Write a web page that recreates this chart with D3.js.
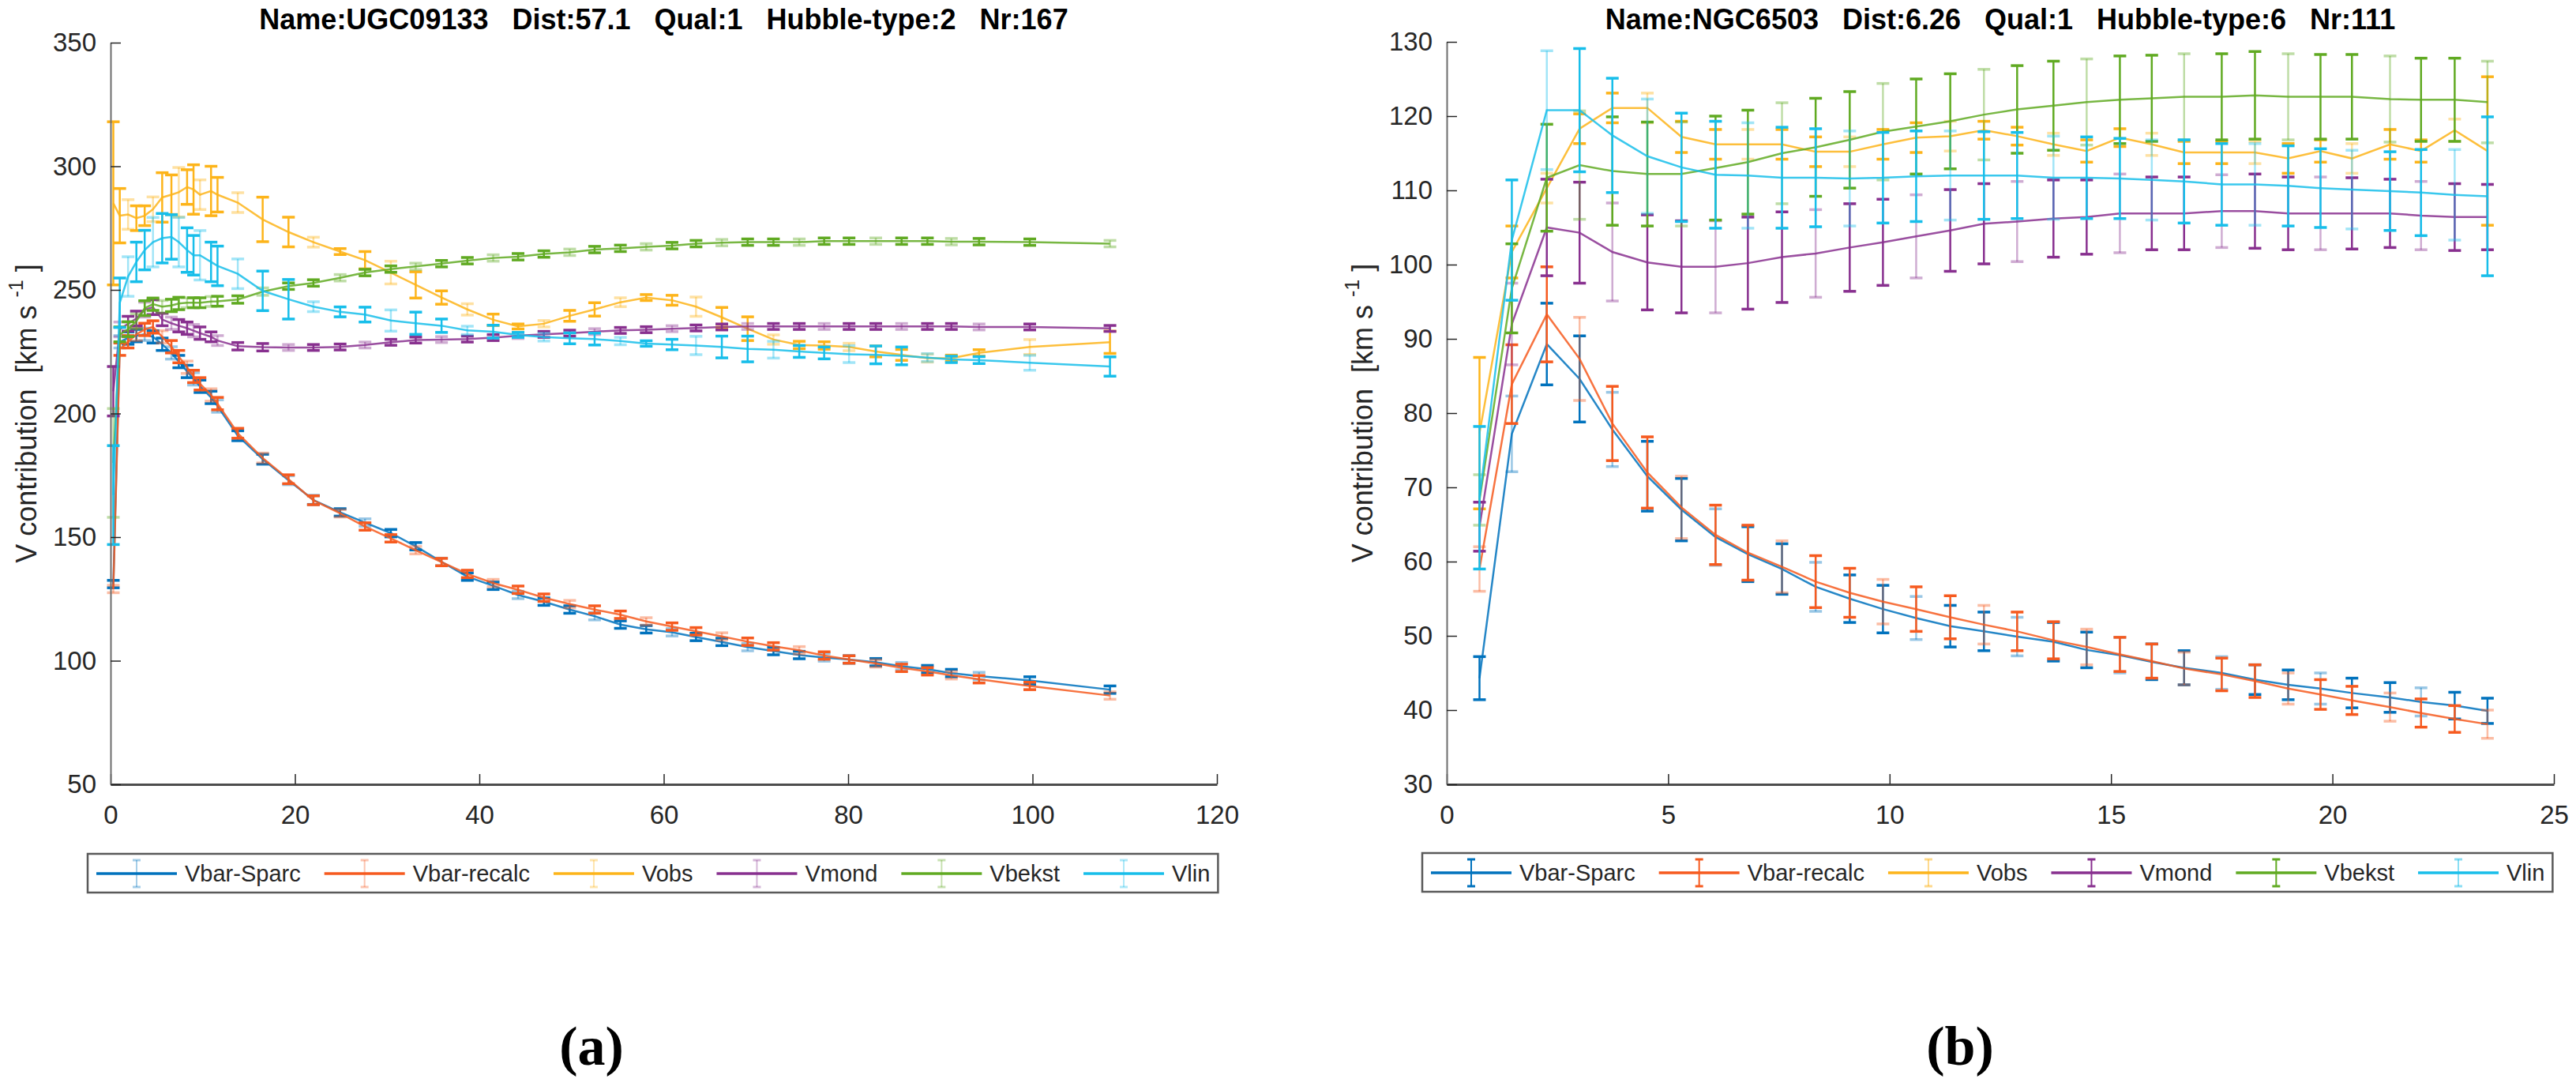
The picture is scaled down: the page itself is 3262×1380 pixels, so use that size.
<!DOCTYPE html>
<html>
<head>
<meta charset="utf-8">
<script src="https://cdn.jsdelivr.net/npm/d3@7"></script>
<style>
body { margin: 0; background: #fff; }
svg { display: block; font-family: "Liberation Sans", Arial, Helvetica, sans-serif; }
</style>
</head>
<body>
<svg id="fig" width="3262" height="1380"></svg>
<script>
// ---- panel (a) UGC09133 ----
var radiusA = [0.3, 1.0, 1.9, 2.8, 3.7, 4.6, 5.6, 6.6, 7.4, 8.3,
  9.0, 9.7, 10.9, 11.6, 13.8, 16.5, 19.3, 22.0, 24.9, 27.6,
  30.4, 33.1, 35.9, 38.7, 41.5, 44.2, 47.0, 49.8, 52.5, 55.3,
  58.1, 60.9, 63.5, 66.3, 69.1, 71.9, 74.7, 77.4, 80.1, 83.0,
  85.8, 88.6, 91.2, 94.2, 99.7, 108.4];

var vbarSparcA = [131, 229, 230.5, 231.5, 232, 231, 228, 224.5, 221, 217,
  214, 211, 206.5, 203, 191, 181.5, 173, 165, 160, 155.9,
  151.6, 146.3, 140, 134, 130.3, 126.6, 123.9, 120.7, 118, 114.6,
  112.7, 111.5, 109.6, 107.6, 105.5, 103.9, 102.3, 101.3, 100.5, 99.4,
  97.8, 96.6, 95, 93.8, 92, 88.3];
var errVbarSparcA = [1.5, 2.5, 2.5, 2.5, 2.5, 2.5, 2.5, 2.5, 2.5, 2.5,
  2.5, 2.5, 2.5, 2.5, 2, 2, 1.8, 1.8, 1.5, 1.5,
  1.5, 1.5, 1.5, 1.5, 1.5, 1.5, 1.5, 1.5, 1.5, 1.5,
  1.5, 1.5, 1.5, 1.5, 1.5, 1.5, 1.5, 1.5, 1.5, 1.5,
  1.5, 1.5, 1.5, 1.5, 1.5, 1.5];

var vbarRecalcA = [129, 226, 229, 232, 234, 235, 231, 227, 223, 218.7,
  215, 212, 207.5, 204, 192, 182, 173.4, 164.9, 159.6, 154.3,
  149.5, 144.7, 139.9, 135.1, 131.4, 128.7, 125.5, 122.9, 120.7, 118.6,
  115.9, 113.8, 111.9, 109.8, 107.7, 105.8, 104.2, 102.1, 100.5, 98.9,
  97.1, 95.7, 94.1, 92.5, 89.8, 85.9];
var errVbarRecalcA = [1.5, 2.5, 2.5, 2.5, 2.5, 2.5, 2.5, 2.5, 2.5, 2.5,
  2.5, 2.5, 2.5, 2.5, 2, 2, 1.8, 1.8, 1.5, 1.5,
  1.5, 1.5, 1.5, 1.5, 1.5, 1.5, 1.5, 1.5, 1.5, 1.5,
  1.5, 1.5, 1.5, 1.5, 1.5, 1.5, 1.5, 1.5, 1.5, 1.5,
  1.5, 1.5, 1.5, 1.5, 1.5, 1.5];

var vobsA = [285, 280, 280.5, 279, 280, 282.6, 287.4, 288.5, 289.5, 291.6,
  290.6, 288.5, 290, 288.5, 285.3, 278.5, 273.4, 269.3, 265.5, 262,
  257, 252, 246.9, 242.1, 237.9, 235.2, 236.3, 239.5, 242.1, 245,
  246.9, 245.8, 243.2, 238.9, 234.3, 229.9, 227.7, 227.5, 226.9, 225.1,
  223.7, 222.4, 222.4, 224.5, 226.9, 228.8];
var errVobsA = [33, 11, 6, 5, 4, 5, 10, 8, 10, 7,
  10, 6, 10, 7, 4, 9, 6, 2, 1.2, 3.5,
  4.6, 5.3, 2.7, 2.3, 2.3, 1, 1.3, 2.2, 2.7, 1.8,
  1.2, 2, 3.9, 4, 4.8, 1.9, 1.5, 1.5, 1.5, 2.2,
  2.2, 1.6, 1.2, 1.3, 3, 4.5];

var vmondA = [209, 234, 236.3, 238.4, 242, 243, 238, 236.5, 235.5, 234.5,
  233.5, 232.5, 231, 229.5, 227.2, 226.8, 226.7, 226.7, 226.9, 227.7,
  228.8, 229.7, 229.9, 230.1, 230.7, 231.5, 232, 232.5, 233.1, 233.6,
  233.9, 234.3, 234.6, 235, 235.2, 235.2, 235.2, 235.2, 235.2, 235.2,
  235.2, 235.2, 235.2, 235, 235, 234.4];
var errVmondA = [10, 3, 3, 3, 3, 3, 2.5, 2.5, 2.5, 2.5,
  2.5, 2.5, 2, 2, 1.5, 1.5, 1.2, 1.2, 1.2, 1.2,
  1.2, 1.2, 1.2, 1.2, 1.2, 1.2, 1.2, 1.2, 1.2, 1.2,
  1.2, 1.2, 1.2, 1.2, 1.2, 1.2, 1.2, 1.2, 1.2, 1.2,
  1.2, 1.2, 1.2, 1.2, 1.2, 1.2];

var vbekstA = [180, 232, 234.1, 237.3, 242.6, 244.2, 243.2, 243.7, 244.5, 244.8,
  244.8, 244.8, 245.3, 245.4, 246.1, 249.3, 251.5, 252.8, 254.9, 257,
  258.4, 259.5, 260.6, 261.8, 262.9, 263.4, 264.5, 265.2, 266.3, 266.8,
  267.4, 267.9, 268.7, 269.1, 269.3, 269.3, 269.3, 269.7, 269.7, 269.7,
  269.7, 269.7, 269.5, 269.5, 269.3, 268.7];
var errVbekstA = [22, 3, 3, 3, 3, 2.5, 2.5, 2.5, 2.5, 2,
  2, 2, 2, 2, 1.5, 1.5, 1.3, 1.3, 1.3, 1.3,
  1.3, 1.3, 1.3, 1.3, 1.3, 1.3, 1.3, 1.3, 1.3, 1.3,
  1.3, 1.3, 1.3, 1.3, 1.3, 1.3, 1.3, 1.3, 1.3, 1.3,
  1.3, 1.3, 1.3, 1.3, 1.3, 1.3];

var vlinA = [167, 244.8, 255.4, 261.3, 266.1, 269.3, 270.9, 271.4, 269.3, 266.1,
  264, 264, 261.3, 259.7, 256.5, 249.6, 246.2, 243.2, 241.1, 240,
  237.6, 236.5, 235.5, 233.6, 233.1, 231.8, 230.9, 230.4, 230.1, 229.3,
  228.3, 227.9, 227.5, 226.9, 226.1, 225.8, 225.1, 224.5, 224, 223.7,
  223.3, 222.6, 221.9, 221.6, 220.5, 219];
var errVlinA = [20, 10, 8, 8, 8, 10, 10, 9, 10, 9,
  8, 10, 8, 8, 6, 8, 8, 2, 2, 3,
  4.3, 4.5, 2.7, 1.7, 2.6, 1, 1.6, 2.2, 2.4, 1.5,
  1.1, 2.1, 3.7, 4.4, 5.2, 3.4, 2.4, 2.4, 3.4, 3.6,
  3.6, 1.6, 1.3, 1.4, 3, 3.9];

// ---- panel (b) NGC6503 ----
var radiusB = [0.74, 1.47, 2.26, 3.0, 3.74, 4.53, 5.3, 6.07, 6.8, 7.57,
  8.33, 9.1, 9.85, 10.6, 11.37, 12.13, 12.88, 13.7, 14.45, 15.2,
  15.92, 16.65, 17.5, 18.25, 19.0, 19.73, 20.44, 21.3, 22.0, 22.76, 23.5];

var vbarSparcB = [44.3, 77.2, 89.3, 84.6, 77.8, 71.5, 67, 63.3, 61, 59,
  56.6, 55, 53.6, 52.4, 51.3, 50.6, 49.9, 49.2, 48.1, 47.4,
  46.5, 45.7, 45, 44.1, 43.4, 42.9, 42.3, 41.7, 41.1, 40.6, 39.9];
var errVbarSparcB = [2.9, 5.1, 5.5, 5.8, 5, 4.7, 4.2, 3.8, 3.7, 3.4,
  3.3, 3.2, 3.2, 2.9, 2.8, 2.6, 2.6, 2.6, 2.4, 2.4,
  2.4, 2.3, 2.2, 2, 2, 2.1, 2, 2, 1.9, 1.8, 1.7];

var vbarRecalcB = [59, 83.9, 93.3, 87.3, 78.6, 72, 67.3, 63.6, 61.2, 59.3,
  57.3, 55.8, 54.6, 53.6, 52.5, 51.5, 50.6, 49.4, 48.5, 47.5,
  46.6, 45.6, 44.8, 43.9, 42.9, 42.1, 41.3, 40.4, 39.6, 38.8, 38.1];
var errVbarRecalcB = [3, 5.3, 6.4, 5.6, 5, 4.8, 4.2, 4, 3.7, 3.5,
  3.5, 3.3, 3, 3, 2.9, 2.6, 2.6, 2.5, 2.4, 2.3,
  2.3, 2.2, 2.2, 2.2, 2.1, 2, 1.9, 1.9, 1.9, 1.8, 1.9];

var vobsB = [77.3, 101.7, 110.3, 118.3, 121.1, 121.1, 117.2, 116.2, 116.2, 116.2,
  115.2, 115.2, 116.2, 117.1, 117.3, 118.1, 117.3, 116.2, 115.3, 117.1,
  116.2, 115.1, 115.1, 115.1, 114.3, 115.3, 114.3, 116.2, 115.3, 118.1, 115.3];
var errVobsB = [10.2, 3.5, 2, 2, 2, 2, 2.1, 2, 2, 2,
  2, 2, 2, 2, 2, 1.2, 1.2, 1.5, 1.5, 1.2,
  1.5, 1.5, 1.5, 1.5, 2, 1.5, 2, 2, 1.5, 1.5, 10];

var vmondB = [64.7, 92, 105, 104.3, 101.7, 100.3, 99.7, 99.7, 100.2, 101,
  101.5, 102.3, 103, 103.8, 104.6, 105.5, 105.8, 106.2, 106.4, 106.9,
  106.9, 106.9, 107.2, 107.2, 106.9, 106.9, 106.9, 106.9, 106.6, 106.4, 106.4];
var errVmondB = [3.3, 5.5, 6.5, 6.8, 6.6, 6.4, 6.2, 6.2, 6.2, 6.1,
  5.9, 5.9, 5.8, 5.6, 5.5, 5.4, 5.4, 5.2, 5, 5.3,
  4.9, 4.9, 4.9, 5, 4.9, 4.9, 4.8, 4.6, 4.6, 4.5, 4.4];

var vbekstB = [68.3, 96.8, 111.7, 113.4, 112.6, 112.2, 112.2, 113, 113.8, 115,
  115.8, 116.8, 117.9, 118.6, 119.3, 120.2, 120.9, 121.4, 121.9, 122.2,
  122.4, 122.6, 122.6, 122.8, 122.6, 122.6, 122.6, 122.3, 122.2, 122.2, 121.9];
var errVbekstB = [3.4, 6, 7.2, 7.3, 7.3, 7, 7, 7, 7, 6.8,
  6.6, 6.5, 6.5, 6.4, 6.4, 6.1, 5.9, 6, 5.8, 5.9,
  5.8, 5.8, 5.8, 5.9, 5.8, 5.7, 5.7, 5.8, 5.6, 5.6, 5.5];

var vlinB = [68.6, 103.3, 120.8, 120.8, 117.4, 114.6, 113.1, 112.1, 112, 111.7,
  111.7, 111.6, 111.7, 111.9, 112, 112, 112, 111.7, 111.7, 111.6,
  111.4, 111.2, 110.8, 110.8, 110.6, 110.3, 110.1, 109.9, 109.7, 109.4, 109.2];
var errVlinB = [9.6, 8.1, 8, 8.3, 7.7, 7.7, 7.3, 7.2, 7.1, 6.8,
  6.6, 6.4, 6.1, 6.1, 6, 5.9, 5.8, 5.6, 5.5, 5.4,
  5.4, 5.6, 5.5, 5.5, 5.4, 5.3, 5.3, 5.3, 5.8, 6.1, 10.7];

var seriesNames = ["Vbar-Sparc", "Vbar-recalc", "Vobs", "Vmond", "Vbekst", "Vlin"];
var seriesColors = ["#0072BD", "#F65A1F", "#FDB41A", "#88308F", "#60AA22", "#17BEEA"];

var xTicksA = [0, 20, 40, 60, 80, 100, 120];
var yTicksA = [50, 100, 150, 200, 250, 300, 350];
var xTicksB = [0, 5, 10, 15, 20, 25];
var yTicksB = [30, 40, 50, 60, 70, 80, 90, 100, 110, 120, 130];

var svg = d3.select("#fig");

function drawPanel(p) {
    var g = svg.append("g");
    var x = d3.scaleLinear().domain(p.xDomain).range([p.left, p.right]);
    var y = d3.scaleLinear().domain(p.yDomain).range([p.bottom, p.top]);

    var line = d3.line()
        .x(function(d) { return x(d.r); })
        .y(function(d) { return y(d.v); });

    p.series.forEach(function(s, k) {
        var pts = p.radius.map(function(r, i) { return { r: r, v: s.v[i], e: s.e[i], i: i }; });
        var sg = g.append("g").attr("stroke", seriesColors[k]).attr("fill", "none");

        sg.append("path")
            .datum(pts)
            .attr("d", line)
            .attr("stroke-width", 2.5)
            .attr("stroke-opacity", 0.85);

        var bars = sg.selectAll("g.eb").data(pts).enter().append("g")
            .attr("class", "eb")
            .attr("stroke-opacity", function(d) { return (d.i + k) % 3 === 1 ? 0.4 : 1; });

        bars.append("line")
            .attr("x1", function(d) { return x(d.r); })
            .attr("x2", function(d) { return x(d.r); })
            .attr("y1", function(d) { return y(d.v - d.e); })
            .attr("y2", function(d) { return y(d.v + d.e); })
            .attr("stroke-width", 2.5);

        [-1, 1].forEach(function(sign) {
            bars.append("line")
                .attr("x1", function(d) { return x(d.r) - 8; })
                .attr("x2", function(d) { return x(d.r) + 8; })
                .attr("y1", function(d) { return y(d.v + sign * d.e); })
                .attr("y2", function(d) { return y(d.v + sign * d.e); })
                .attr("stroke-width", 3.5);
        });
    });

    var xAxis = g.append("g")
        .attr("transform", "translate(0," + p.bottom + ")")
        .call(d3.axisBottom(x).tickValues(p.xTicks).tickSizeInner(-13).tickSizeOuter(0).tickPadding(27));
    var yAxis = g.append("g")
        .attr("transform", "translate(" + p.left + ",0)")
        .call(d3.axisLeft(y).tickValues(p.yTicks).tickSizeInner(-13).tickSizeOuter(0).tickPadding(18));

    xAxis.select(".domain").attr("stroke", "#4d4d4d").attr("stroke-width", 3);
    yAxis.select(".domain").attr("stroke", "#6e6e6e").attr("stroke-width", 2);
    g.selectAll(".tick line").attr("stroke", "#262626").attr("stroke-width", 1.5);
    g.selectAll(".tick text")
        .attr("fill", "#262626")
        .style("font-size", "33px")
        .style("font-family", "'Liberation Sans', Arial, sans-serif");

    g.append("text")
        .attr("x", (p.left + p.right) / 2)
        .attr("y", 37)
        .attr("text-anchor", "middle")
        .style("font-size", "36px")
        .style("font-weight", "bold")
        .style("white-space", "pre")
        .text(p.title);

    var cy = (p.top + p.bottom) / 2;
    var lab = g.append("text")
        .attr("transform", "translate(" + (p.left - 107) + "," + cy + ") rotate(-90)")
        .attr("text-anchor", "middle")
        .attr("dominant-baseline", "central")
        .attr("fill", "#262626")
        .style("font-size", "36px")
        .style("white-space", "pre");
    lab.append("tspan").text("V contribution  [km s ");
    lab.append("tspan").attr("dy", -13).style("font-size", "25px").text("-1");
    lab.append("tspan").attr("dy", 13).text(" ]");

    // legend
    var lg = g.append("g");
    var box = lg.append("rect");
    var ly = p.legendTop + 25;
    var ix = p.legendLeft + 11;
    seriesNames.forEach(function(n, k) {
        var c = seriesColors[k];
        lg.append("line").attr("x1", ix).attr("x2", ix + 102).attr("y1", ly).attr("y2", ly)
            .attr("stroke", c).attr("stroke-width", 3.5);
        var mx = ix + 51;
        var eg = lg.append("g").attr("stroke", c).attr("stroke-opacity", p.legendGlyph[k]);
        eg.append("line").attr("x1", mx).attr("x2", mx).attr("y1", ly - 17).attr("y2", ly + 17).attr("stroke-width", 2);
        eg.append("line").attr("x1", mx - 5).attr("x2", mx + 5).attr("y1", ly - 17).attr("y2", ly - 17).attr("stroke-width", 3);
        eg.append("line").attr("x1", mx - 5).attr("x2", mx + 5).attr("y1", ly + 17).attr("y2", ly + 17).attr("stroke-width", 3);
        var t = lg.append("text").attr("x", ix + 112).attr("y", ly)
            .attr("dominant-baseline", "central")
            .attr("fill", "#262626")
            .style("font-size", "29px")
            .text(n);
        ix += 112 + t.node().getComputedTextLength() + 30;
    });
    box.attr("x", p.legendLeft).attr("y", p.legendTop)
        .attr("width", ix - 30 + 10 - p.legendLeft).attr("height", 49)
        .attr("fill", "#fff").attr("stroke", "#5a5a5a").attr("stroke-width", 2.5);

    svg.append("text")
        .attr("x", p.tagX).attr("y", 1348)
        .attr("text-anchor", "middle")
        .style("font-family", "'Liberation Serif', 'Times New Roman', serif")
        .style("font-weight", "bold")
        .style("font-size", "70px")
        .text(p.tag);
}

drawPanel({
    left: 140, right: 1541, top: 54, bottom: 993,
    xDomain: [0, 120], yDomain: [50, 350],
    xTicks: xTicksA, yTicks: yTicksA,
    radius: radiusA,
    series: [
        { v: vbarSparcA, e: errVbarSparcA },
        { v: vbarRecalcA, e: errVbarRecalcA },
        { v: vobsA, e: errVobsA },
        { v: vmondA, e: errVmondA },
        { v: vbekstA, e: errVbekstA },
        { v: vlinA, e: errVlinA }
    ],
    title: "Name:UGC09133   Dist:57.1   Qual:1   Hubble-type:2   Nr:167",
    legendLeft: 111, legendTop: 1081,
    legendGlyph: [0.35, 0.35, 0.35, 0.35, 0.35, 0.35],
    tag: "(a)", tagX: 749
});

drawPanel({
    left: 1832, right: 3234, top: 53, bottom: 993,
    xDomain: [0, 25], yDomain: [30, 130],
    xTicks: xTicksB, yTicks: yTicksB,
    radius: radiusB,
    series: [
        { v: vbarSparcB, e: errVbarSparcB },
        { v: vbarRecalcB, e: errVbarRecalcB },
        { v: vobsB, e: errVobsB },
        { v: vmondB, e: errVmondB },
        { v: vbekstB, e: errVbekstB },
        { v: vlinB, e: errVlinB }
    ],
    title: "Name:NGC6503   Dist:6.26   Qual:1   Hubble-type:6   Nr:111",
    legendLeft: 1801, legendTop: 1080,
    legendGlyph: [1, 1, 0.5, 1, 1, 0.5],
    tag: "(b)", tagX: 2482
});
</script>
</body>
</html>
